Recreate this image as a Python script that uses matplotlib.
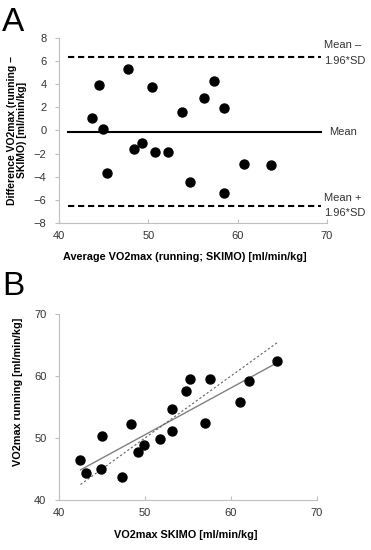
import numpy as np
import matplotlib.pyplot as plt

plt.rcParams['font.family'] = ['Liberation Sans', 'DejaVu Sans']

# Panel A: Bland-Altman data
avg_vo2 = [43.7, 44.5, 44.9, 45.4, 47.7, 48.4, 49.3, 50.4, 50.7, 52.2,
           53.8, 54.7, 56.2, 57.4, 58.5, 58.5, 60.7, 63.8]
diff_vo2 = [1.1, 3.9, 0.1, -3.7, 5.3, -1.6, -1.1, 3.7, -1.9, -1.9,
            1.6, -4.5, 2.8, 4.3, 1.9, -5.4, -2.9, -3.0]
mean_diff = -0.1
upper_loa = 6.35
lower_loa = -6.5
line_span = [41, 69.3]

# Panel B: SKIMO vs running
skimo = [42.5, 43.1, 44.9, 45.05, 47.3, 48.4, 49.25, 49.9, 51.7, 53.1,
         53.1, 54.8, 55.3, 57.0, 57.6, 61.1, 62.1, 65.4]
running = [46.5, 44.3, 45.05, 50.4, 43.7, 52.2, 47.7, 48.8, 49.8, 51.2,
           54.7, 57.6, 59.6, 52.5, 59.5, 55.75, 59.2, 62.4]

spine_col = '#bfbfbf'
tick_col = '#333333'

fig = plt.figure(figsize=(3.71, 5.5), dpi=100)
axA = fig.add_axes([0.159, 0.5945, 0.722, 0.337])
axB = fig.add_axes([0.159, 0.0909, 0.695, 0.338])


def style(ax):
    for s in ['top', 'right']:
        ax.spines[s].set_visible(False)
    for s in ['left', 'bottom']:
        ax.spines[s].set_color(spine_col)
        ax.spines[s].set_linewidth(0.8)
    ax.tick_params(axis='y', direction='out', length=3, color=spine_col,
                   labelsize=8, labelcolor=tick_col, pad=6)
    ax.tick_params(axis='x', direction='in', length=3, color=spine_col,
                   labelsize=8, labelcolor=tick_col, pad=6)


# ---- A ----
axA.scatter(avg_vo2, diff_vo2, s=42, color='black', zorder=3)
axA.plot(line_span, [mean_diff] * 2, color='black', lw=1.5)
axA.plot(line_span, [upper_loa] * 2, color='black', lw=1.5, ls=(0, (3, 1.8)))
axA.plot(line_span, [lower_loa] * 2, color='black', lw=1.5, ls=(0, (3, 1.8)))
axA.set_xlim(40, 70)
axA.set_ylim(-8, 8)
axA.set_xticks([40, 50, 60, 70])
axA.set_yticks(range(-8, 9, 2))
style(axA)
axA.set_xlabel('Average VO2max (running; SKIMO) [ml/min/kg]',
               fontsize=7.8, fontweight='bold')
axA.xaxis.set_label_coords(0.47, -0.155)
axA.set_ylabel('Difference VO2max (running \u2013\nSKIMO) [ml/min/kg]',
               fontsize=7.5, fontweight='bold', linespacing=1.0)
axA.yaxis.set_label_coords(-0.12, 0.5)
axA.text(69.7, 7.4, 'Mean \u2013', fontsize=8, color=tick_col, va='center')
axA.text(69.7, 6.0, '1.96*SD', fontsize=8, color=tick_col, va='center')
axA.text(70.2, -0.1, 'Mean', fontsize=8, color=tick_col, va='center')
axA.text(69.7, -5.85, 'Mean +', fontsize=8, color=tick_col, va='center')
axA.text(69.7, -7.15, '1.96*SD', fontsize=8, color=tick_col, va='center')
fig.text(0.005, 0.988, 'A', fontsize=24, va='top')

# ---- B ----
axB.scatter(skimo, running, s=42, color='black', zorder=3)
k, b = np.polyfit(skimo, running, 1)
xs = np.array([min(skimo), max(skimo)])
axB.plot(xs, k * xs + b, color='#808080', lw=1.0)
axB.plot(xs, xs, color='#606060', lw=0.8, ls=(0, (2, 2)))
axB.set_xlim(40, 70)
axB.set_ylim(40, 70)
axB.set_xticks([40, 50, 60, 70])
axB.set_yticks([40, 50, 60, 70])
style(axB)
axB.set_xlabel('VO2max SKIMO [ml/min/kg]', fontsize=7.8, fontweight='bold')
axB.xaxis.set_label_coords(0.49, -0.16)
axB.set_ylabel('VO2max running [ml/min/kg]', fontsize=7.8, fontweight='bold')
axB.yaxis.set_label_coords(-0.14, 0.58)
fig.text(0.005, 0.508, 'B', fontsize=24, va='top')

fig.savefig('out.png', dpi=100)
